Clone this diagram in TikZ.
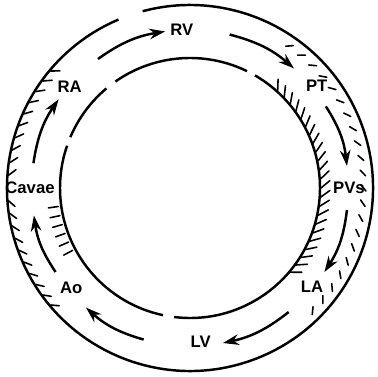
\documentclass[tikz,border=0pt]{standalone}
\usepackage{fontspec}
\setmainfont{Liberation Sans}
\usetikzlibrary{arrows.meta}

\tikzset{
  lbl/.style={font=\bfseries\fontsize{9.5}{11}\selectfont, inner sep=1pt},
  flow/.style={line width=1.4pt, -{Stealth[length=9pt,width=6pt]}, bend left=13},
  ring/.style={line width=1.4pt},
  hatch/.style={line width=0.9pt, line cap=round}
}

\begin{document}
\begin{tikzpicture}
  \useasboundingbox (-3.8,-3.78) rectangle (3.76,3.76);
  % outer wall
  \draw[ring] (113:3.66) arc[start angle=113, end angle=465, radius=3.66];
  % inner wall, broken in places
  \foreach \a/\b in {64/125,130/157,161/258,263/420}
    \draw[ring] (\a:2.6) arc[start angle=\a, end angle=\b, radius=2.6];
  % stations
  \node[lbl] (rv) at (93:3.16) {RV};
  \node[lbl] (pt) at (39:3.26) {PT};
  \node[lbl] (pvs) at (0:3.18) {PVs};
  \node[lbl] (la) at (-39:3.14) {LA};
  \node[lbl] (lv) at (-86:3.08) {LV};
  \node[lbl] (ao) at (-140:3.1) {Ao};
  \node[lbl] (cavae) at (180:3.2) {Cavae};
  \node[lbl] (ra) at (140:3.14) {RA};
  % flow, clockwise
  \foreach \n/\s/\e in {1/125.5/99,2/75.5/49,3/31/8,4/-8/-32,5/-51.5/-78,6/-107/-131,7/-148/-170,8/171/146} {
    \coordinate (t\n) at (\s:3.17);
    \coordinate (h\n) at (\e:3.17);
    \draw[flow] (t\n) to (h\n);
  }
  % shading strokes
  \foreach \a in {140,144,...,176} \draw[hatch] (\a:3.64) -- (\a-2:3.5);
  \foreach \a in {-176,-172,...,-140} \draw[hatch] (\a:3.64) -- (\a+2:3.52);
  \foreach \a in {-40,-36,...,50} \draw[hatch] (\a:2.62) -- (\a+3:2.8);
  \foreach \a in {-44,-39,...,56} \draw[hatch] (\a:3.42) -- (\a-2:3.52);
  \foreach \a in {-172,-168,...,-150} \draw[hatch] (\a:2.66) -- (\a:2.86);
\end{tikzpicture}
\end{document}
